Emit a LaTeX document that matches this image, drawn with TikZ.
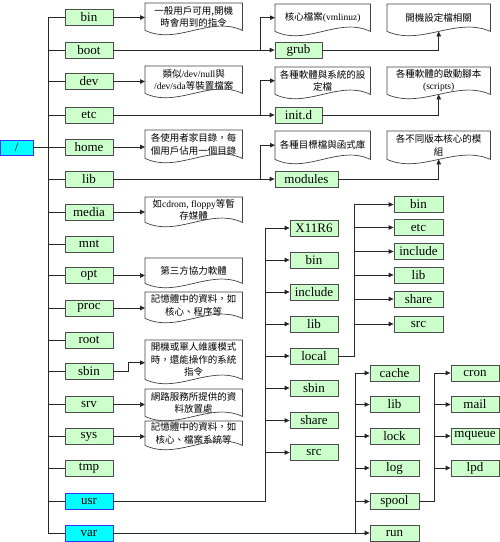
\documentclass[tikz,border=0pt]{standalone}
\usepackage{fontspec}
\setmainfont{Liberation Serif}
\newfontfamily\cjk{Noto Sans CJK TC}
\usetikzlibrary{arrows.meta,calc}
\definecolor{boxgreen}{HTML}{CCFFCC}
\definecolor{cyanfill}{HTML}{00FFFF}
\definecolor{cyanborder}{HTML}{3333FF}
\begin{document}
\begin{tikzpicture}[x=1pt,y=-1pt,
  dirbox/.style={draw=black!70, fill=boxgreen, line width=0.8pt, minimum width=48pt,
    minimum height=16pt, inner sep=0pt, font=\fontsize{13}{13}\selectfont},
  hotbox/.style={dirbox, fill=cyanfill, draw=cyanborder},
  docnode/.style={anchor=north west, inner sep=0pt, minimum width=#1, align=center,
    font=\cjk\fontsize{9.5}{12.5}\selectfont},
  docline/.style={draw=black!75, line width=0.7pt},
  link/.style={draw=black!85, line width=0.8pt},
  arr/.style={link, -{Triangle[length=5pt,width=4.5pt]}},
]
\useasboundingbox (0,0) rectangle (500,542);

% root
\node[hotbox, minimum width=32.5pt, minimum height=15pt] (root) at (16.75,147.5) {/};
\coordinate (T) at (48,0);

% left column
\foreach \n/\y/\s in {bin/17.5/dirbox, boot/50/dirbox, dev/81.5/dirbox, etc/115/dirbox,
  home/147/dirbox, lib/179/dirbox, media/212/dirbox, mnt/244/dirbox, opt/275.5/dirbox,
  proc/308/dirbox, root/340/dirbox, sbin/371/dirbox, srv/404.5/dirbox, sys/436.5/dirbox,
  tmp/468/dirbox, usr/501/hotbox, var/533.5/hotbox}{
  \node[\s] (n-\n) at (89,\y) {\n};
  \draw[link] (root.east) -- (T |- root.east) |- (n-\n.west);
}

% descriptions, left
\node[docnode=97pt, minimum height=27pt] (dbin) at (145,3) {一般用戶可用,開機\\時會用到的指令};
\node[docnode=97pt, minimum height=27pt] (ddev) at (145,66) {類似{\rmfamily /dev/null}與\\{\rmfamily /dev/sda}等裝置檔案};
\node[docnode=97pt, minimum height=28pt] (dhome) at (145,130) {各使用者家目錄，每\\個用戶佔用一個目錄};
\node[docnode=97pt, minimum height=25pt] (dmedia) at (145,197) {如{\rmfamily cdrom, floppy}等暫\\存媒體};
\node[docnode=97pt, minimum height=25pt] (dopt) at (145,258) {第三方協力軟體};
\node[docnode=97pt, minimum height=26pt] (dproc) at (145,292) {記憶體中的資料，如\\核心、程序等};
\node[docnode=97pt, minimum height=39pt] (dsbin) at (145,340) {開機或單人維護模式\\時，還能操作的系統\\指令};
\node[docnode=97pt, minimum height=27pt] (dsrv) at (145,389) {網路服務所提供的資\\料放置處};
\node[docnode=97pt, minimum height=24pt] (dsys) at (145,421) {記憶體中的資料，如\\核心、檔案系統等};

\foreach \n in {bin,dev,home,media,opt,proc,srv,sys}
  \draw[arr] (n-\n.east) -- (n-\n.east -| d\n.west);
\draw[arr] (n-sbin.east) -- ++(15,0) |- ($(dsbin.west)+(0,3)$);

% boot / etc / lib branches
\node[dirbox, minimum width=47pt] (grub) at (298.5,50) {grub};
\node[dirbox, minimum width=47pt] (initd) at (298.5,115) {init.d};
\node[dirbox, minimum width=63pt] (modules) at (306.5,179) {modules};

\node[docnode=95pt, minimum height=27pt] (dkern) at (275,4) {核心檔案{\rmfamily (vmlinuz)}};
\node[docnode=103pt, minimum height=27pt] (dgrub) at (387,4) {開機設定檔相關};
\node[docnode=95pt, minimum height=27pt] (detc) at (275,67) {各種軟體與系統的設\\定檔};
\node[docnode=103pt, minimum height=27pt] (dinit) at (387,67) {各種軟體的啟動腳本\\{\rmfamily (scripts)}};
\node[docnode=95pt, minimum height=28pt] (dlib) at (275,131) {各種目標檔與函式庫};
\node[docnode=103pt, minimum height=28pt] (dmod) at (387,131) {各不同版本核心的模\\組};

\coordinate (B) at (260,0);
\draw[arr] (n-boot.east) -- (grub.west);
\draw[arr] (n-boot.east) -- (B |- n-boot.east) |- (dkern.west);
\draw[arr] (grub.east) -| (dgrub.south);
\draw[arr] (n-etc.east) -- (initd.west);
\draw[arr] (n-etc.east) -- (B |- n-etc.east) |- (detc.west);
\draw[arr] (initd.east) -| (dinit.south);
\draw[arr] (n-lib.east) -- (modules.west);
\draw[arr] (n-lib.east) -- (B |- n-lib.east) |- (dlib.west);
\draw[arr] (modules.east) -| (dmod.south);

% document outlines
\foreach \d in {dbin,ddev,dhome,dmedia,dopt,dproc,dsbin,dsrv,dsys,dkern,dgrub,detc,dinit,dlib,dmod}{
  \draw[docline] (\d.south west) -- (\d.north west) -- (\d.north east) -- (\d.south east)
    .. controls ($(\d.south east)!0.33!(\d.south west)+(0,-15)$)
    and ($(\d.south east)!0.67!(\d.south west)+(0,15)$) .. (\d.south west);
}

% usr subtree
\coordinate (U) at (265,0);
\foreach \n/\y in {X11R6/228, bin/260, include/292, lib/324, local/356, sbin/388, share/420.5, src/452.5}{
  \node[dirbox] (u-\n) at (314,\y) {\n};
  \draw[arr] (n-usr.east) -- (U |- n-usr.east) |- (u-\n.west);
}

% local subtree
\coordinate (L) at (354,0);
\foreach \n/\y in {bin/204.5, etc/227.5, include/251.5, lib/275, share/299, src/324}{
  \node[dirbox, minimum width=49pt] (l-\n) at (418.5,\y) {\n};
  \draw[arr] (u-local.east) -- (L |- u-local.east) |- (l-\n.west);
}

% var subtree
\coordinate (V) at (355,0);
\foreach \n/\y in {cache/373, lib/404.5, lock/436, log/468, spool/501.5, run/533}{
  \node[dirbox, minimum width=49pt] (v-\n) at (394.5,\y) {\n};
  \draw[arr] (n-var.east) -- (V |- n-var.east) |- (v-\n.west);
}

% spool subtree
\coordinate (S) at (434,0);
\foreach \n/\y in {cron/373, mail/404.5, mqueue/436, lpd/468}{
  \node[dirbox] (s-\n) at (475,\y) {\n};
  \draw[arr] (v-spool.east) -- (S |- v-spool.east) |- (s-\n.west);
}
\end{tikzpicture}
\end{document}
